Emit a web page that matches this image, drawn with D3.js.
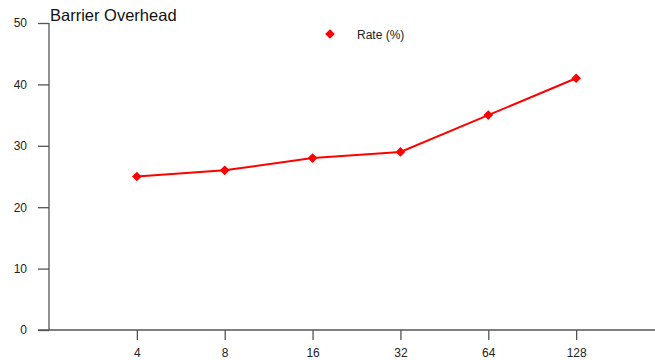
<!DOCTYPE html>
<html>
<head>
<meta charset="utf-8">
<script src="https://cdn.jsdelivr.net/npm/d3@7"></script>
<style>
  body { margin: 0; background: #fff; }
  svg { display: block; font-family: "Liberation Sans", Arial, sans-serif; }
</style>
</head>
<body>
<svg id="chart" width="655" height="360"></svg>
<script>
// data
const categories = ["4", "8", "16", "32", "64", "128"];
const rates = [25, 26, 28, 29, 35, 41];
const yTicks = [0, 10, 20, 30, 40, 50];
const seriesName = "Rate (%)";
const title = "Barrier Overhead";

const svg = d3.select("#chart");
const plotLeft = 49, plotRight = 664, plotTop = 23, plotBottom = 330;
const axisColor = "#555";

const x = d3.scalePoint().domain(categories).range([plotLeft, plotRight]).padding(1);
const y = d3.scaleLinear().domain([0, 50]).range([plotBottom, plotTop]);

// y axis
const yAxis = svg.append("g")
  .attr("transform", `translate(${plotLeft},0)`)
  .call(d3.axisLeft(y).tickValues(yTicks).tickSize(11).tickPadding(11));
yAxis.select(".domain").attr("d", `M0,${plotBottom}V${plotTop}`);

// x axis
const xAxis = svg.append("g")
  .attr("transform", `translate(0,${plotBottom})`)
  .call(d3.axisBottom(x).tickSize(10).tickPadding(8));
xAxis.select(".domain").attr("d", `M${plotLeft - 11},0H655`);

svg.selectAll(".domain, .tick line").attr("stroke", axisColor).attr("stroke-width", 1.3);
svg.selectAll(".tick text").attr("fill", "#222").style("font-size", "12px")
  .style("font-family", "'Liberation Sans', Arial, sans-serif");

// line
svg.append("path")
  .datum(rates)
  .attr("fill", "none")
  .attr("stroke", "#ff0000")
  .attr("stroke-width", 2)
  .attr("d", d3.line().x((d, i) => x(categories[i])).y(d => y(d)));

const diamond = d3.symbol().type(d3.symbolDiamond2).size(60);
svg.selectAll(".pt").data(rates).enter().append("path")
  .attr("class", "pt")
  .attr("transform", (d, i) => `translate(${x(categories[i])},${y(d)})`)
  .attr("d", diamond)
  .attr("fill", "#ff0000");

// title
svg.append("text")
  .attr("x", 50).attr("y", 21)
  .style("font-size", "16.5px").attr("fill", "#111")
  .text(title);

// legend
svg.append("path")
  .attr("transform", "translate(330,34)")
  .attr("d", diamond)
  .attr("fill", "#ff0000");
svg.append("text")
  .attr("x", 357).attr("y", 39)
  .style("font-size", "12px").attr("fill", "#222")
  .text(seriesName);
</script>
</body>
</html>
